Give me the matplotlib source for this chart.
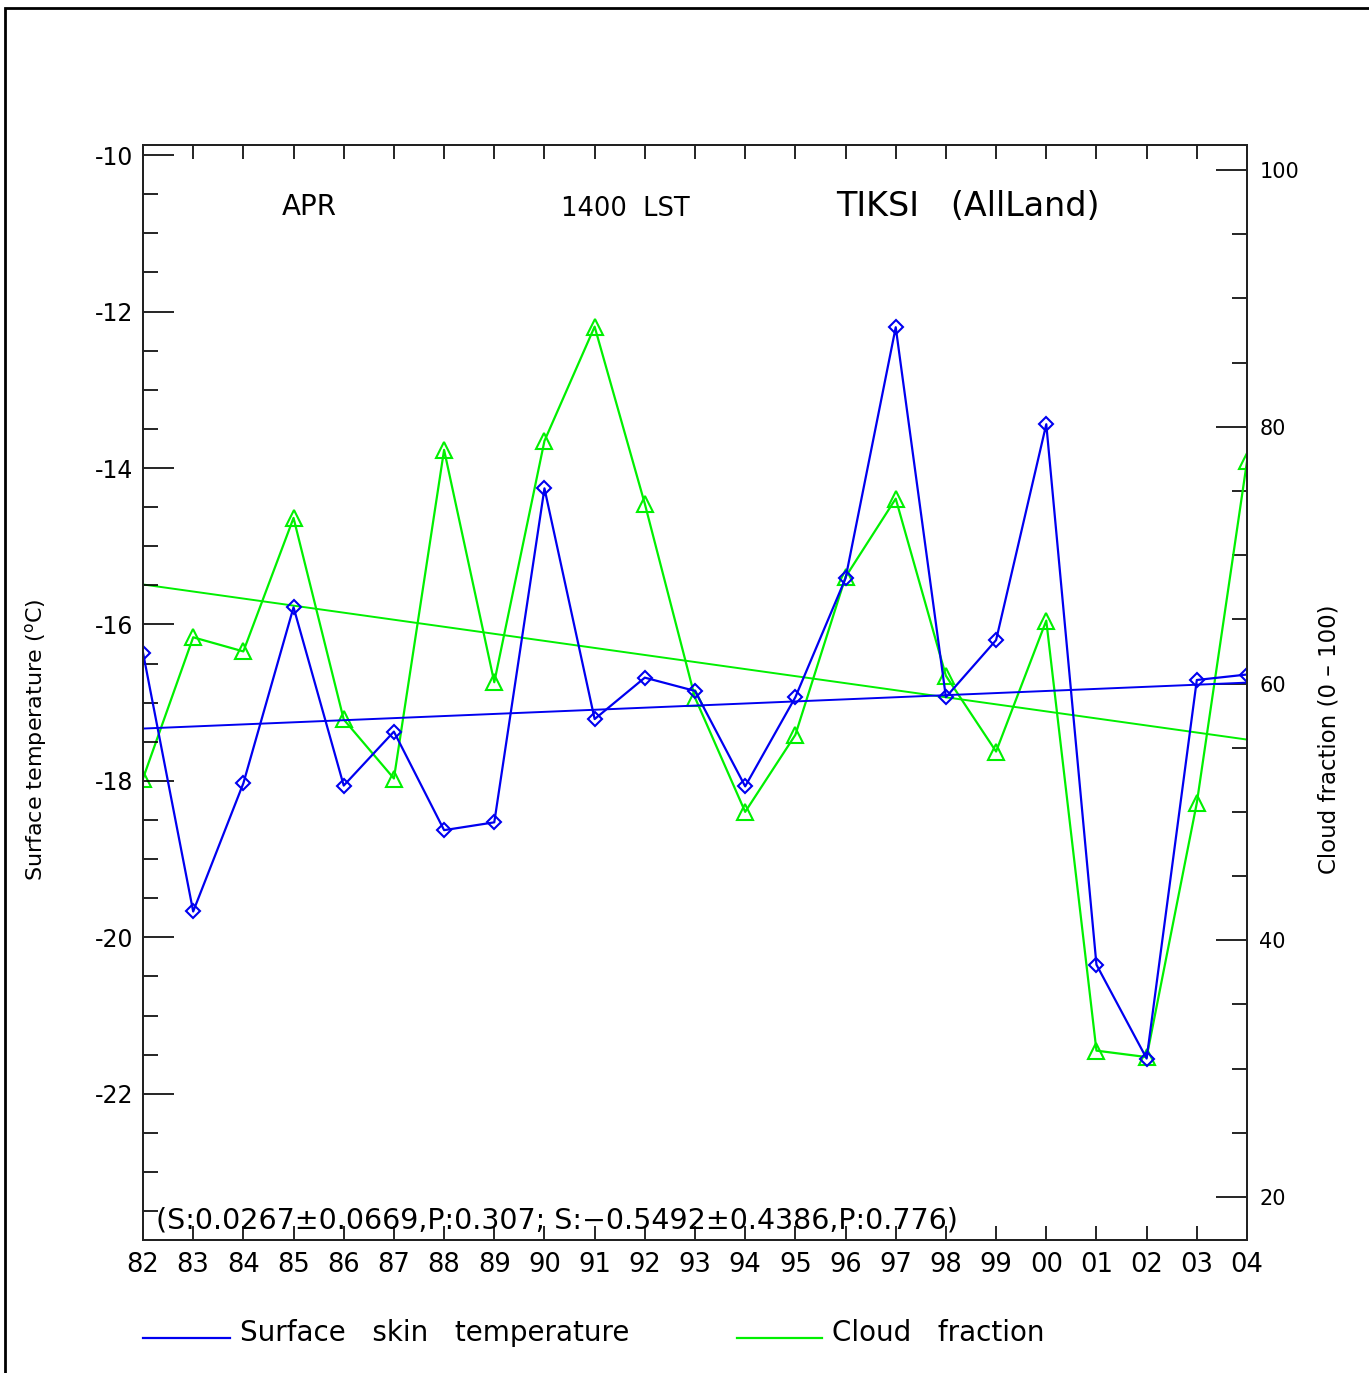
import matplotlib
matplotlib.use('Agg')
import matplotlib.pyplot as plt
import numpy as np
from matplotlib.ticker import MultipleLocator
from matplotlib.patches import Rectangle

plt.rcParams['font.family'] = ['DejaVu Sans']

years = np.arange(1982, 2005)
year_labels = ['82', '83', '84', '85', '86', '87', '88', '89', '90', '91', '92', '93',
               '94', '95', '96', '97', '98', '99', '00', '01', '02', '03', '04']

# surface skin temperature (C)
skin_temp = [-16.36, -19.67, -18.03, -15.78, -18.06, -17.37, -18.63, -18.53, -14.26,
             -17.21, -16.68, -16.85, -18.07, -16.93, -15.41, -12.20, -16.93, -16.20,
             -13.44, -20.35, -21.55, -16.71, -16.64]
# cloud fraction (0-100)
cloud = [52.6, 63.6, 62.5, 72.9, 57.2, 52.6, 78.2, 60.1, 78.9, 87.8, 74.0, 58.9,
         50.0, 56.0, 68.3, 74.4, 60.6, 54.7, 64.9, 31.4, 30.9, 50.7, 77.3]

# trend slopes per year
temp_slope, temp_err, temp_p = 0.0267, 0.0669, 0.307
cloud_slope, cloud_err, cloud_p = -0.5492, 0.4386, 0.776

blue = '#0000f0'
green = '#00f000'

fig = plt.figure(figsize=(13.69, 13.73), dpi=100)
fig.patches.append(Rectangle((5 / 1369, -0.01), 1.1, 1 - 8 / 1373 + 0.01, transform=fig.transFigure,
                             fill=False, edgecolor='black', linewidth=2))

ax = fig.add_axes([143 / 1369, 1 - 1240 / 1373, 1104 / 1369, 1095 / 1373])
ax2 = ax.twinx()

t = np.array(skin_temp)
c = np.array(cloud)
xm = years.mean()
temp_trend = t.mean() + temp_slope * (years - xm)
cloud_trend = c.mean() + cloud_slope * (years - xm)

ax2.plot(years, cloud, color=green, lw=1.6, marker='^', ms=11, mfc='none', mec=green, mew=1.5)
ax2.plot(years, cloud_trend, color=green, lw=1.4)
ax.plot(years, skin_temp, color=blue, lw=1.6, marker='D', ms=7.5, mfc='none', mec=blue, mew=1.5)
ax.plot(years, temp_trend, color=blue, lw=1.4)
ax.set_zorder(ax2.get_zorder() + 1)
ax.patch.set_visible(False)

ax.set_xlim(1982, 2004)
ax.set_ylim(-23.87, -9.87)
ax2.set_ylim(16.65, 101.95)

ax.set_xticks(years)
ax.set_xticklabels(year_labels, fontsize=18.5)
ax.set_yticks(np.arange(-22, -9, 2))
ax.set_yticklabels([str(v) for v in range(-22, -9, 2)], fontsize=17)
ax.yaxis.set_minor_locator(MultipleLocator(0.5))
ax.tick_params(axis='x', which='both', direction='in', top=True, length=10, width=1.2, pad=9)
ax.tick_params(axis='y', which='major', direction='in', length=22, width=1.2, pad=7)
ax.tick_params(axis='y', which='minor', direction='in', length=11, width=1.2)

ax2.set_yticks(np.arange(20, 101, 20))
ax2.set_yticklabels([str(v) for v in range(20, 101, 20)], fontsize=15)
ax2.yaxis.set_minor_locator(MultipleLocator(5))
ax2.tick_params(axis='y', which='major', direction='in', length=22, width=1.2, pad=9)
ax2.tick_params(axis='y', which='minor', direction='in', length=11, width=1.2)

for a in (ax, ax2):
    for s in a.spines.values():
        s.set_linewidth(1.4)
        s.set_color('#222222')

ax.set_ylabel(r'Surface temperature ($^{\rm o}$C)', fontsize=16)
ax.yaxis.set_label_coords(-0.085, 0.457)
ax2.set_ylabel('Cloud fraction (0 \u2013 100)', fontsize=16.5)
ax2.yaxis.set_label_coords(1.064, 0.457)

ax.text(0.151, 0.943, 'APR', transform=ax.transAxes, fontsize=20, ha='center', va='center')
ax.text(0.437, 0.942, '1400  LST', transform=ax.transAxes, fontsize=18.5, ha='center', va='center')
ax.text(0.747, 0.944, 'TIKSI   (AllLand)', transform=ax.transAxes, fontsize=24, ha='center', va='center')

stats = '(S:%.4f\u00b1%.4f,P:%.3f; S:\u2212%.4f\u00b1%.4f,P:%.3f)' % (
    temp_slope, temp_err, temp_p, abs(cloud_slope), cloud_err, cloud_p)
ax.text(0.012, 0.018, stats, transform=ax.transAxes, fontsize=20.5, ha='left', va='center')

# legend below the axes
fig.add_artist(plt.Line2D([143 / 1369, 230 / 1369], [1 - 1338 / 1373] * 2, color=blue, lw=1.6))
fig.text(240 / 1369, 1 - 1333 / 1373, 'Surface   skin   temperature', fontsize=20, va='center')
fig.add_artist(plt.Line2D([737 / 1369, 822 / 1369], [1 - 1338 / 1373] * 2, color=green, lw=1.6))
fig.text(832 / 1369, 1 - 1333 / 1373, 'Cloud   fraction', fontsize=20, va='center')

fig.savefig('out.png', dpi=100)
